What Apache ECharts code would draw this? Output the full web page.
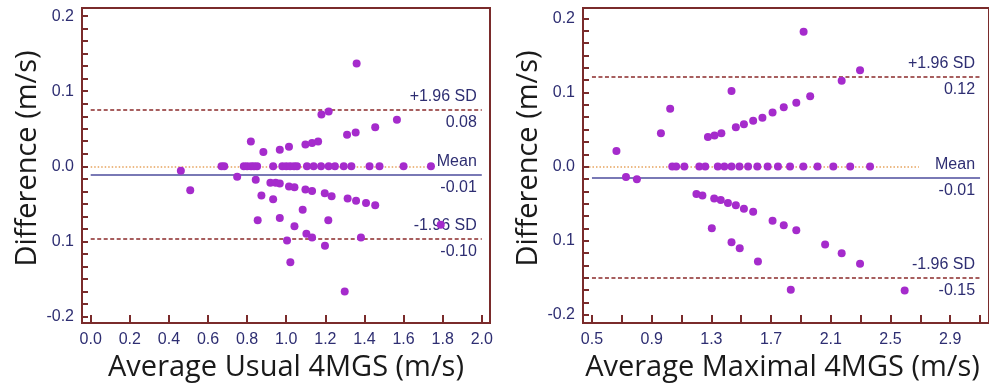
<!DOCTYPE html>
<html><head><meta charset="utf-8">
<script src="https://cdn.jsdelivr.net/npm/echarts@6/dist/echarts.min.js"></script>
<style>html,body{margin:0;padding:0;background:#fff}#c{width:989px;height:387px}</style>
</head><body><div id="c"></div>
<script>
// ---- data: left panel (usual 4MGS) ----
const usualAvg = [0.461,0.509,0.669,0.683,0.749,0.783,0.800,0.820,0.835,0.851,0.819,0.844,0.854,0.873,0.883,0.919,0.933,0.933,0.946,0.967,0.967,0.967,0.980,1.000,1.020,1.040,1.055,1.014,1.014,1.042,1.042,1.004,1.021,1.084,1.098,1.098,1.103,1.106,1.132,1.132,1.132,1.140,1.163,1.178,1.180,1.197,1.198,1.217,1.215,1.217,1.232,1.249,1.294,1.299,1.311,1.314,1.333,1.355,1.357,1.360,1.382,1.408,1.426,1.455,1.455,1.477,1.566,1.600,1.740,1.790];
const usualDiff = [-0.006,-0.032,0,0,-0.014,0,0,0,0,0,0.033,-0.018,-0.072,-0.039,0.019,-0.022,-0.044,0,-0.022,-0.023,0.022,-0.069,0,0,0,0,0,0.026,-0.027,-0.028,-0.080,-0.099,-0.128,-0.058,0.029,-0.031,-0.090,0,0.031,-0.033,-0.095,0,0.033,0,0.069,-0.036,-0.106,0.073,-0.072,0,-0.040,0,0,-0.167,0.042,-0.043,0,0.045,-0.046,0.137,-0.095,-0.049,0,0.052,-0.052,0,0.062,0,0,-0.078];
const usualMean = -0.011, usualUpper = 0.076, usualLower = -0.097;
const usualLineX = [0.0, 2.0];      // extent of mean / SD lines
const usualZeroX = [0.0, 1.746];    // extent of dotted zero line
const usualTexts = {upper: '0.08', mean: '-0.01', lower: '-0.10'};
const usualXTicks = [0.0,0.2,0.4,0.6,0.8,1.0,1.2,1.4,1.6,1.8,2.0];
const usualXLabels = [0.0,0.2,0.4,0.6,0.8,1.0,1.2,1.4,1.6,1.8,2.0];

// ---- data: right panel (maximal 4MGS) ----
const maximalAvg = [0.664,0.728,0.801,0.962,1.024,1.038,1.064,1.119,1.200,1.240,1.219,1.259,1.277,1.303,1.319,1.363,1.411,1.464,1.518,1.580,1.321,1.367,1.464,1.518,1.580,1.642,1.710,1.785,1.869,1.962,1.435,1.343,1.387,1.435,1.488,1.546,1.608,1.677,1.746,1.827,1.916,2.011,2.117,2.230,2.363,1.435,1.490,1.612,1.710,1.785,1.869,1.832,1.918,2.062,2.173,2.173,2.296,2.296,2.595];
const maximalDiff = [0.021,-0.014,-0.017,0.045,0.078,0,0,0,-0.037,-0.039,0,0,0.040,-0.083,-0.043,-0.045,-0.049,-0.052,-0.057,-0.061,0.042,0.045,0.053,0.057,0.062,0.066,0.073,0.080,0.086,0.095,0.102,0,0,0,0,0,0,0,0,0,0,0,0,0,0,-0.102,-0.110,-0.128,-0.073,-0.079,-0.086,-0.166,0.182,-0.105,-0.117,0.116,0.130,-0.131,-0.167];
const maximalMean = -0.015, maximalUpper = 0.121, maximalLower = -0.150;
const maximalLineX = [0.5, 3.1];
const maximalZeroX = [0.48, 2.69];
const maximalTexts = {upper: '0.12', mean: '-0.01', lower: '-0.15'};
const maximalXTicks = [0.5,0.7,0.9,1.1,1.3,1.5,1.7,1.9,2.1,2.3,2.5,2.7,2.9,3.1];
const maximalXLabels = [0.5,0.9,1.3,1.7,2.1,2.5,2.9];

// ---- shared y ticks ----
const yLabelValues = [0.2, 0.1, 0.0, -0.1, -0.2];
const yLabelTexts = ['0.2', '0.1', '0.0', '0.1', '-0.2'];
const yMinorSplit = 6;

const yTicks = [];
for (let i = 0; i < yLabelValues.length - 1; i++) {
  const a = yLabelValues[i], b = yLabelValues[i + 1];
  for (let k = 0; k < yMinorSplit; k++) yTicks.push(a + (b - a) * k / yMinorSplit);
}
yTicks.push(yLabelValues[yLabelValues.length - 1]);

const AX = '#7a2b2b', NAVY = '#2e2e72', PT = '#a52bcc';
const tickFont = {color: NAVY, fontSize: 16, fontFamily: 'Liberation Sans'};
const nameFont = {color: '#1a1a1a', fontSize: 29, fontFamily: 'Open Sans'};

function yLabel(v) {
  const i = yLabelValues.findIndex(t => Math.abs(t - v) < 1e-9);
  return i >= 0 ? yLabelTexts[i] : '';
}
function pairs(xs, ys) { return xs.map((x, i) => [x, ys[i]]); }

function lineItem(x0, x1, y, style, text, pos) {
  return [
    {coord: [x0, y], lineStyle: style,
     label: text == null ? {show: false} : {show: true, position: pos, formatter: text, distance: 5,
       color: NAVY, fontSize: 16, fontFamily: 'Liberation Sans', opacity: 1}},
    {coord: [x1, y]}
  ];
}
function markLines(lineX, zeroX, mean, upper, lower, texts) {
  const dash = {color: '#8b2a2a', width: 1.5, type: [4, 2.5]};
  const hid = {color: 'rgba(0,0,0,0)', width: 1, type: 'solid'};
  const dot = {color: '#e6a35c', width: 1.6, type: [1.5, 2]};
  const solid = {color: '#4d4d9c', width: 1.6, type: 'solid'};
  return {
    silent: true, symbol: 'none', z: 1, animation: false,
    data: [
      lineItem(zeroX[0], zeroX[1], 0, dot, null),
      lineItem(lineX[0], lineX[1], mean, solid, 'Mean', 'insideEndTop'),
      lineItem(lineX[0], lineX[1], mean, hid, texts.mean, 'insideEndBottom'),
      lineItem(lineX[0], lineX[1], upper, dash, '+1.96 SD', 'insideEndTop'),
      lineItem(lineX[0], lineX[1], upper, hid, texts.upper, 'insideEndBottom'),
      lineItem(lineX[0], lineX[1], lower, dash, '-1.96 SD', 'insideEndTop'),
      lineItem(lineX[0], lineX[1], lower, hid, texts.lower, 'insideEndBottom')
    ]
  };
}

function xAxis(grid, min, max, ticks, labels, name, namePad) {
  return {
    type: 'value', gridIndex: grid, min: min, max: max,
    name: name, nameLocation: 'middle', nameGap: 30,
    nameTextStyle: Object.assign({padding: namePad}, nameFont),
    axisLine: {onZero: false, lineStyle: {color: AX, width: 2}},
    axisTick: {show: true, inside: true, length: 8, customValues: ticks, lineStyle: {color: AX, width: 2}},
    axisLabel: Object.assign({margin: 9, customValues: labels, formatter: v => v.toFixed(1)}, tickFont),
    splitLine: {show: false}
  };
}
function yAxis(grid, min, max) {
  return {
    type: 'value', gridIndex: grid, min: min, max: max,
    name: 'Difference (m/s)', nameLocation: 'middle', nameGap: 37,
    nameTextStyle: Object.assign({padding: [0, 0, 0, 14]}, nameFont),
    axisLine: {show: true, onZero: false, lineStyle: {color: AX, width: 2}},
    axisTick: {show: true, inside: true, length: 6, customValues: yTicks, lineStyle: {color: AX, width: 2}},
    axisLabel: Object.assign({margin: 8, customValues: yLabelValues, formatter: yLabel}, tickFont),
    splitLine: {show: false}
  };
}

const chart = echarts.init(document.getElementById('c'), null, {renderer: 'canvas'});
chart.setOption({
  animation: false,
  grid: [
    {left: 82, top: 8, width: 408, height: 315, show: true, borderColor: AX, borderWidth: 2},
    {left: 583, top: 8, width: 409, height: 317, show: true, borderColor: AX, borderWidth: 2}
  ],
  xAxis: [
    xAxis(0, -0.0445, 2.042, usualXTicks, usualXLabels, 'Average Usual 4MGS (m/s)', [0, 0, 0, 0]),
    xAxis(1, 0.44, 3.16, maximalXTicks, maximalXLabels, 'Average Maximal 4MGS (m/s)', [0, 7, 0, 0])
  ],
  yAxis: [
    yAxis(0, -0.209, 0.211),
    yAxis(1, -0.211, 0.214)
  ],
  series: [
    {type: 'scatter', xAxisIndex: 0, yAxisIndex: 0, z: 5, symbolSize: 8,
     itemStyle: {color: PT, opacity: 1}, data: pairs(usualAvg, usualDiff),
     markLine: markLines(usualLineX, usualZeroX, usualMean, usualUpper, usualLower, usualTexts)},
    {type: 'scatter', xAxisIndex: 1, yAxisIndex: 1, z: 5, symbolSize: 8,
     itemStyle: {color: PT, opacity: 1}, data: pairs(maximalAvg, maximalDiff),
     markLine: markLines(maximalLineX, maximalZeroX, maximalMean, maximalUpper, maximalLower, maximalTexts)}
  ]
});
</script>
</body></html>
